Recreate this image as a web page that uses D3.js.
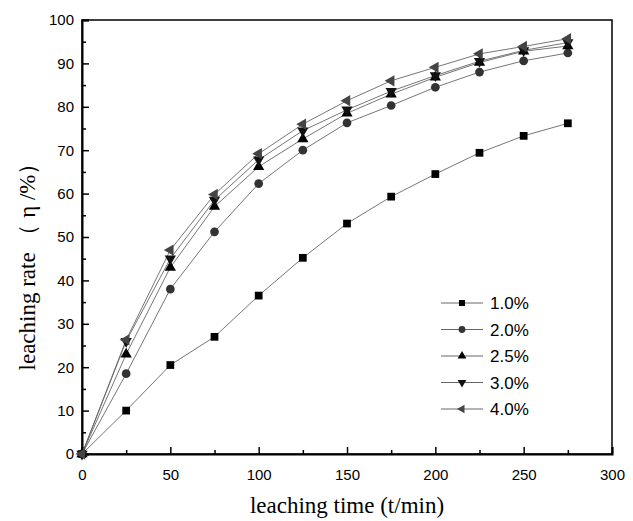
<!DOCTYPE html>
<html><head><meta charset="utf-8">
<script src="https://cdn.jsdelivr.net/npm/d3@7"></script>
<style>body{margin:0;background:#fff}svg{display:block}</style>
</head><body><svg id="c" width="633" height="521"></svg>
<script>
const times = [0, 25, 50, 75, 100, 125, 150, 175, 200, 225, 250, 275];
const seriesNames = ["1.0%", "2.0%", "2.5%", "3.0%", "4.0%"];
const s10 = [0, 10.0, 20.5, 27.0, 36.5, 45.2, 53.1, 59.3, 64.5, 69.4, 73.3, 76.2];
const s20 = [0, 18.5, 38.0, 51.2, 62.3, 70.0, 76.3, 80.3, 84.5, 88.0, 90.6, 92.4];
const s25 = [0, 23.0, 43.0, 57.0, 66.2, 72.6, 78.5, 82.9, 86.8, 90.2, 92.8, 94.0];
const s30 = [0, 26.0, 45.0, 58.5, 67.8, 74.5, 79.3, 83.6, 87.2, 90.5, 93.0, 94.8];
const s40 = [0, 26.3, 47.0, 59.8, 69.2, 76.0, 81.4, 86.0, 89.1, 92.2, 93.9, 95.7];
const xTicks = [0, 50, 100, 150, 200, 250, 300];
const yTicks = [0, 10, 20, 30, 40, 50, 60, 70, 80, 90, 100];

const allSeries = [s10, s20, s25, s30, s40];
const styles = [
  {sym: d3.symbolSquare, fill: "#000", size: 60, rot: 0},
  {sym: d3.symbolCircle, fill: "#333", size: 60, rot: 0},
  {sym: d3.symbolTriangle, fill: "#000", size: 55, rot: 0},
  {sym: d3.symbolTriangle, fill: "#111", size: 55, rot: 180},
  {sym: d3.symbolTriangle, fill: "#444", size: 55, rot: -90}
];

const svg = d3.select("#c");
const L = 82, R = 612, T = 20, B = 454;
const x = d3.scaleLinear().domain([0, 300]).range([L, R]);
const y = d3.scaleLinear().domain([0, 100]).range([B, T]);

// frame
svg.append("rect").attr("x", L).attr("y", T).attr("width", R - L).attr("height", B - T)
  .attr("fill", "none").attr("stroke", "#000").attr("stroke-width", 1.5);

// x axis
const xAx = svg.append("g").attr("transform", `translate(0,${B})`)
  .call(d3.axisBottom(x).tickValues(xTicks).tickSize(-7).tickPadding(15).tickFormat(d3.format("d")));
xAx.select(".domain").attr("stroke-width", 2);
xAx.selectAll(".tick line").attr("stroke-width", 1.5);
xAx.selectAll("text").attr("font-family", "Arial, 'Liberation Sans', sans-serif").attr("font-size", 15).attr("fill", "#000");
const xMinor = svg.append("g").attr("transform", `translate(0,${B})`)
  .call(d3.axisBottom(x).tickValues(d3.range(25, 300, 50)).tickSize(-4).tickFormat(""));
xMinor.select(".domain").remove();
xMinor.selectAll(".tick line").attr("stroke-width", 1.5);

// y axis
const yAx = svg.append("g").attr("transform", `translate(${L},0)`)
  .call(d3.axisLeft(y).tickValues(yTicks).tickSize(-7).tickPadding(8).tickFormat(d3.format("d")));
yAx.select(".domain").attr("stroke-width", 2);
yAx.selectAll(".tick line").attr("stroke-width", 1.5);
yAx.selectAll("text").attr("font-family", "Arial, 'Liberation Sans', sans-serif").attr("font-size", 15).attr("fill", "#000");
const yMinor = svg.append("g").attr("transform", `translate(${L},0)`)
  .call(d3.axisLeft(y).tickValues(d3.range(5, 100, 10)).tickSize(-4).tickFormat(""));
yMinor.select(".domain").remove();
yMinor.selectAll(".tick line").attr("stroke-width", 1.5);

// lines and markers
const line = d3.line().x((d, i) => x(times[i])).y(d => y(d));
allSeries.forEach((s, k) => {
  svg.append("path").datum(s).attr("d", line).attr("fill", "none")
    .attr("stroke", "#666").attr("stroke-width", 0.9);
});
allSeries.forEach((s, k) => {
  const st = styles[k];
  svg.append("g").selectAll("path").data(s).join("path")
    .attr("d", d3.symbol().type(st.sym).size(st.size))
    .attr("transform", (d, i) => `translate(${x(times[i])},${y(d)}) rotate(${st.rot})`)
    .attr("fill", st.fill);
});

// legend
const lg = svg.append("g");
seriesNames.forEach((n, k) => {
  const yy = 303 + k * 26.5;
  const st = styles[k];
  lg.append("line").attr("x1", 441).attr("x2", 483).attr("y1", yy).attr("y2", yy)
    .attr("stroke", "#666").attr("stroke-width", 1);
  lg.append("path").attr("d", d3.symbol().type(st.sym).size(st.size * 0.6))
    .attr("transform", `translate(462,${yy}) rotate(${st.rot})`).attr("fill", st.fill);
  lg.append("text").attr("x", 490).attr("y", yy).attr("dy", "0.36em")
    .attr("font-family", "Arial, 'Liberation Sans', sans-serif").attr("font-size", 17)
    .text(n);
});

// axis titles
svg.append("text").attr("x", 347).attr("y", 513).attr("text-anchor", "middle")
  .attr("font-family", "'Times New Roman', 'Liberation Serif', serif").attr("font-size", 23)
  .text("leaching time (t/min)");
svg.append("text").attr("transform", "translate(35,261) rotate(-90)").attr("text-anchor", "middle")
  .attr("font-family", "'Times New Roman', 'Liberation Serif', serif").attr("font-size", 23)
  .text("leaching rate （ η /%）");
</script></body></html>
